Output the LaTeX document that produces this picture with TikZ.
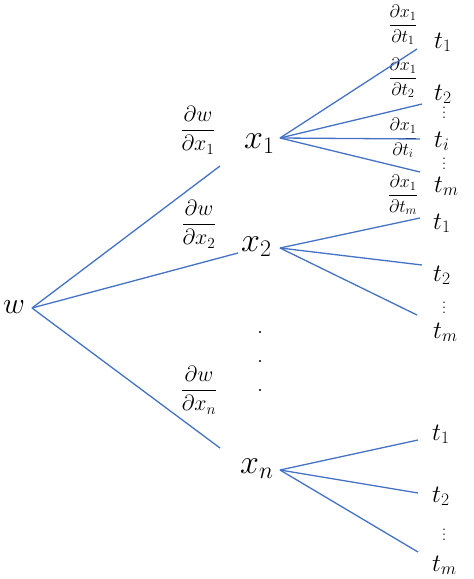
\RequirePackage{fix-cm}
\documentclass[tikz,border=0pt]{standalone}
\definecolor{lineblue}{HTML}{4472C4}
\newcommand{\fs}[1]{\fontsize{#1}{#1}\selectfont}
\newcommand{\myvdots}{\vbox{\baselineskip5pt\lineskiplimit0pt\hbox{.}\hbox{.}\hbox{.}}}
\begin{document}
\begin{tikzpicture}[x=1pt,y=-1pt,
  edge/.style={draw=lineblue, line width=1.3pt},
  lbl/.style={inner sep=0pt, anchor=base west},
  wlbl/.style={lbl, font=\fs{30}},
  xlbl/.style={lbl, font=\fs{34}},
  tlbl/.style={lbl, font=\fs{25}},
  dwfrac/.style={inner sep=0pt, anchor=center, font=\fs{22}},
  dxfrac/.style={inner sep=0pt, anchor=center, font=\fs{18}},
  vdot/.style={inner sep=0pt, anchor=base, font=\fs{18}, text height=12pt, text depth=0pt},
  pt/.style={fill=black, circle, inner sep=0pt, minimum size=2.2pt}]
\useasboundingbox (0,0) rectangle (474,579);

% labels
\node[wlbl] (w) at (3,313) {$w$};
\node[xlbl] (x1) at (244,148) {$x_1$};
\node[xlbl] (x2) at (241,251) {$x_2$};
\node[xlbl] (xn) at (240,473) {$x_n$};

% derivative labels first level
\node[dwfrac] (f1) at (198,130) {$\displaystyle\frac{\partial w}{\partial x_1}$};
\node[dwfrac] (f2) at (199,224) {$\displaystyle\frac{\partial w}{\partial x_2}$};
\node[dwfrac] (fn) at (199,390) {$\displaystyle\frac{\partial w}{\partial x_n}$};

% dots between x2 and xn
\node[pt] (d1) at (260,332) {};
\node[pt] (d2) at (260,361) {};
\node[pt] (d3) at (260,390) {};

% t labels of x1
\node[tlbl] (a1) at (434,48) {$t_1$};
\node[tlbl] (a2) at (434,100) {$t_2$};
\node[vdot] (av1) at (444,118) {\myvdots};
\node[tlbl] (ai) at (434,147) {$t_i$};
\node[vdot] (av2) at (444,169) {\myvdots};
\node[tlbl] (am) at (434,192) {$t_m$};

% derivative labels of x1
\node[dxfrac] (g1) at (403,25) {$\displaystyle\frac{\partial x_1}{\partial t_1}$};
\node[dxfrac] (g2) at (403,78) {$\displaystyle\frac{\partial x_1}{\partial t_2}$};
\node[dxfrac] (gi) at (403,138) {$\displaystyle\frac{\partial x_1}{\partial t_i}$};
\node[dxfrac] (gm) at (403,195) {$\displaystyle\frac{\partial x_1}{\partial t_m}$};

% t labels of x2
\node[tlbl] (b1) at (433,229) {$t_1$};
\node[tlbl] (b2) at (433,281) {$t_2$};
\node[vdot] (bv) at (444,313) {\myvdots};
\node[tlbl] (bm) at (433,338) {$t_m$};

% t labels of xn
\node[tlbl] (c1) at (432,440) {$t_1$};
\node[tlbl] (c2) at (432,502) {$t_2$};
\node[vdot] (cv) at (444,540) {\myvdots};
\node[tlbl] (cm) at (432,571) {$t_m$};

% connector end points
\coordinate (wo) at (32,308);
\coordinate (x1i) at (220,166);
\coordinate (x2i) at (238,253);
\coordinate (xni) at (220,448);
\coordinate (x1o) at (280,138);
\coordinate (x2o) at (280,248);
\coordinate (xno) at (280,470);
\coordinate (a1i) at (417,49);
\coordinate (a2i) at (422,104);
\coordinate (aii) at (420,139);
\coordinate (ami) at (420,172);
\coordinate (b1i) at (420,218);
\coordinate (b2i) at (422,265);
\coordinate (bmi) at (417,315);
\coordinate (c1i) at (418,440);
\coordinate (c2i) at (418,493);
\coordinate (cmi) at (418,552);

% connectors
\draw[edge] (wo) -- (x1i);
\draw[edge] (wo) -- (x2i);
\draw[edge] (wo) -- (xni);
\draw[edge] (x1o) -- (a1i);
\draw[edge] (x1o) -- (a2i);
\draw[edge] (x1o) -- (aii);
\draw[edge] (x1o) -- (ami);
\draw[edge] (x2o) -- (b1i);
\draw[edge] (x2o) -- (b2i);
\draw[edge] (x2o) -- (bmi);
\draw[edge] (xno) -- (c1i);
\draw[edge] (xno) -- (c2i);
\draw[edge] (xno) -- (cmi);
\end{tikzpicture}
\end{document}
